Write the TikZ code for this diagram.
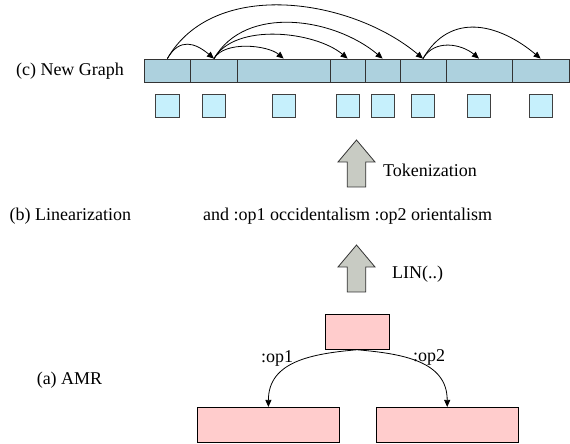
\documentclass[tikz,border=0pt]{standalone}
\usepackage{fontspec}
\setmainfont{Liberation Serif}
\usetikzlibrary{arrows.meta}
\definecolor{segblue}{HTML}{ADD1DE}
\definecolor{tokcyan}{HTML}{C6F0FC}
\definecolor{amrpink}{HTML}{FFCCCC}
\definecolor{arrgray}{HTML}{C8CBC3}
\tikzset{
  txt/.style={inner sep=0pt, font=\fontsize{18}{21}\selectfont},
  seg/.style={draw=black!80, fill=segblue, line width=0.8pt, inner sep=0pt, minimum height=23pt},
  tok/.style={draw=black!75, fill=tokcyan, line width=0.8pt, inner sep=0pt, minimum size=23.3pt},
  amr/.style={draw=black, fill=amrpink, line width=0.8pt, inner sep=0pt, minimum height=35.3pt},
  arc/.style={-{Triangle[length=7pt,width=6pt]}, line width=0.8pt},
  blk/.style={draw=black!80, fill=arrgray, line width=0.8pt},
}
\begin{document}
\begin{tikzpicture}[x=1pt,y=1pt]
	\useasboundingbox (0,0) rectangle (570,444);
	% (c) new graph: segments and tokens
	\node[txt] (lc) at (70,372.5) {(c) New Graph};
	\foreach \l/\r [count=\i] in {144/190.7, 190.7/237.3, 237.3/330, 330/365.3, 365.3/400, 400/446, 446/512, 512/569.3}
	{
		\node[seg, minimum width={(\r-\l)*1pt}] (s\i) at ({(\l+\r)/2},373.5) {};
		\node[tok] (q\i) at ({(\l+\r)/2},338.3) {};
	}
	% arcs over the segments
	\draw[arc] (s1.north) to[out=60,in=140,looseness=1.35] (s2.north);
	\draw[arc] (s1.north) to[out=60,in=140,looseness=0.94] (s6.north);
	\draw[arc] (s2.north) to[out=60,in=140,looseness=0.77] (s3.north);
	\draw[arc] (s2.north) to[out=60,in=140,looseness=0.81] (s4.north);
	\draw[arc] (s2.north) to[out=60,in=140,looseness=0.96] (s5.north);
	\draw[arc] (s6.north) to[out=60,in=140,looseness=1.05] (s7.north);
	\draw[arc] (s6.north) to[out=60,in=140,looseness=1.19] (s8.north);
	% block arrows
	\foreach \y in {152,257}
	\draw[blk] (347.2,\y) -- ++(0,25) -- ++(-9.2,0) -- ++(18.5,22) -- ++(18.5,-22) -- ++(-9.2,0) -- ++(0,-25) -- cycle;
	\node[txt, anchor=west] (tk) at (383,274) {Tokenization};
	% (b) linearization
	\node[txt] (lb) at (70.3,228) {(b) Linearization};
	\node[txt] (ln) at (347.5,228) {and :op1 occidentalism :op2 orientalism};
	\node[txt, anchor=west] (lin) at (392,169.5) {LIN(..)};
	% (a) AMR
	\node[txt] (la) at (69.5,64) {(a) AMR};
	\node[amr, minimum width=64pt] (and) at (357,112.3) {};
	\node[amr, minimum width=141.8pt] (occ) at (268.4,19) {};
	\node[amr, minimum width=142.3pt] (ori) at (447.2,19) {};
	\draw[arc] (and.south) to[out=185,in=90,looseness=1.1] (occ.north);
	\draw[arc] (and.south) to[out=-5,in=90,looseness=1.1] (ori.north);
	\node[txt] (op1) at (277,86) {:op1};
	\node[txt] (op2) at (429,87) {:op2};
\end{tikzpicture}
\end{document}
